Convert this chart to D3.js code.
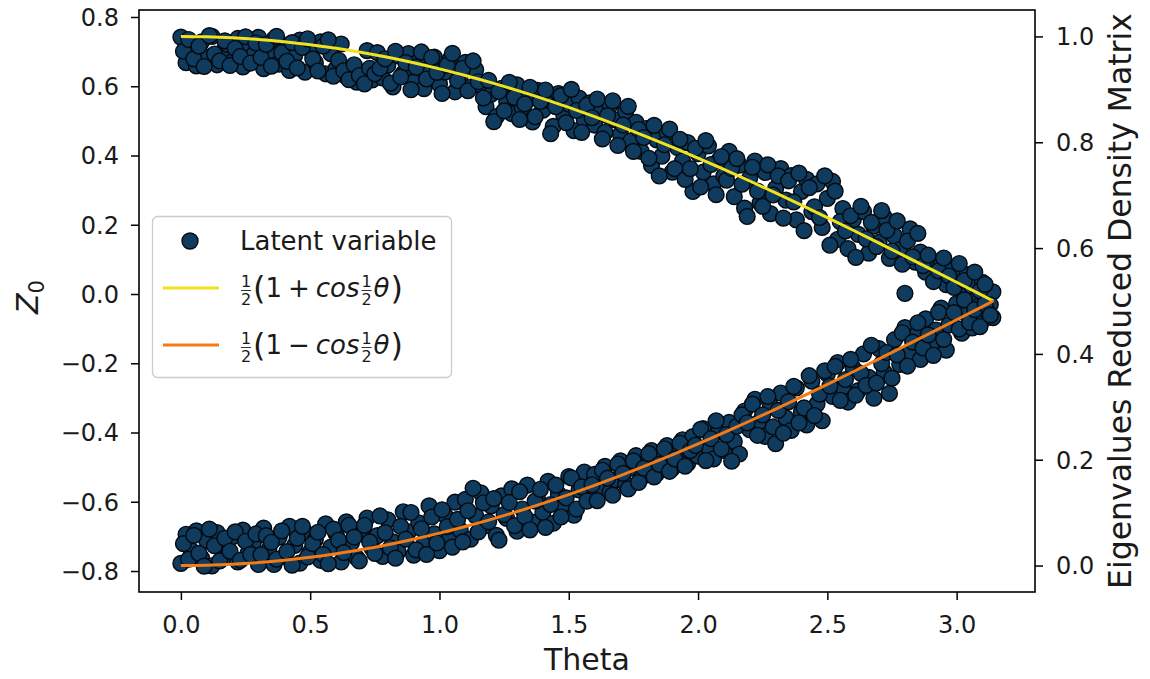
<!DOCTYPE html>
<html>
<head>
<meta charset="utf-8">
<script src="https://cdn.jsdelivr.net/npm/d3@7"></script>
<style>
  body { margin: 0; background: #fff; }
  svg { display: block; }
  text { font-family: "DejaVu Sans", sans-serif; fill: #1a1a1a; }
</style>
</head>
<body>
<svg id="chart" width="1150" height="679"></svg>
<script>
// Rotation angle of each sample (radians), first sweep
const thetasA = [
  0.00,0.02,0.04,0.06,0.08,0.10,0.12,0.14,0.16,0.18,0.20,0.22,0.24,0.26,0.28,0.30,
  0.32,0.34,0.36,0.38,0.40,0.42,0.44,0.46,0.48,0.50,0.52,0.54,0.56,0.58,0.60,0.62,
  0.64,0.66,0.68,0.70,0.72,0.74,0.76,0.78,0.80,0.82,0.84,0.86,0.88,0.90,0.92,0.94,
  0.96,0.98,1.00,1.02,1.04,1.06,1.08,1.10,1.12,1.14,1.16,1.18,1.20,1.22,1.24,1.26,
  1.28,1.30,1.32,1.34,1.36,1.38,1.40,1.42,1.44,1.46,1.48,1.50,1.52,1.54,1.56,1.58,
  1.60,1.62,1.64,1.66,1.68,1.70,1.72,1.74,1.76,1.78,1.80,1.82,1.84,1.86,1.88,1.90,
  1.92,1.94,1.96,1.98,2.00,2.02,2.04,2.06,2.08,2.10,2.12,2.14,2.16,2.18,2.20,2.22,
  2.24,2.26,2.28,2.30,2.32,2.34,2.36,2.38,2.40,2.42,2.44,2.46,2.48,2.50,2.52,2.54,
  2.56,2.58,2.60,2.62,2.64,2.66,2.68,2.70,2.72,2.74,2.76,2.78,2.80,2.82,2.84,2.86,
  2.88,2.90,2.92,2.94,2.96,2.98,3.00,3.02,3.04,3.06,3.08,3.10,3.12,3.14
];
// Latent variable Z0 for the first sweep, upper branch
const upperZA = [
  0.742,0.668,0.705,0.659,0.728,0.684,0.744,0.662,0.699,0.721,0.671,0.738,0.656,0.712,0.690,0.741,
  0.651,0.702,0.736,0.664,0.718,0.646,0.689,0.733,0.641,0.707,0.668,0.728,0.636,0.694,0.651,0.722,
  0.628,0.655,0.612,0.641,0.703,0.618,
  0.697,0.624,0.661,0.598,0.688,0.637,0.694,0.612,0.672,0.593,0.650,0.684,0.606,0.641,0.677,0.584,0.628,0.669,0.597,0.648,
  0.603,0.541,0.577,0.512,0.594,0.556,0.521,0.604,0.538,0.572,0.497,0.588,0.531,0.560,0.484,0.579,0.519,0.548,0.472,0.566,0.503,
  0.552,0.488,0.531,0.467,0.545,0.503,0.461,0.527,0.442,0.496,
  0.412,0.478,0.371,0.445,0.398,0.466,0.352,0.423,0.384,
  0.437,0.296,0.405,0.352,0.428,0.318,0.386,0.341,0.412,
  0.281,0.372,0.248,0.335,0.384,0.263,0.351,0.232,0.305,0.362,0.271,
  0.342,0.214,0.296,0.331,0.238,0.318,0.192,0.276,0.325,0.158,
  0.247,0.131,0.214,0.172,0.238,0.118,0.196,0.149,0.222,0.103,0.167,0.128,0.002,0.188,0.092,
  0.121,0.063,0.098,0.041,0.085,0.027,0.071,0.048,0.012,0.056,0.021,-0.008,0.034,-0.015,0.006
];
// Latent variable Z0 for the first sweep, lower branch
const lowerZA = [
  -0.778,-0.694,-0.741,-0.684,-0.763,-0.712,-0.785,-0.689,-0.732,-0.757,-0.701,-0.774,-0.682,-0.748,-0.719,-0.781,
  -0.676,-0.739,-0.781,-0.702,-0.758,-0.671,-0.726,-0.777,-0.688,-0.745,-0.709,-0.769,-0.664,-0.731,-0.692,-0.774,-0.658,-0.718,
  -0.762,-0.681,-0.647,-0.735,-0.698,-0.758,-0.652,-0.716,-0.744,-0.629,-0.687,-0.754,-0.661,-0.723,-0.612,-0.693,-0.741,-0.638,-0.706,-0.601,
  -0.682,-0.593,-0.708,-0.641,-0.574,-0.669,-0.612,-0.697,-0.583,-0.648,-0.563,-0.685,-0.621,-0.552,-0.659,-0.594,-0.631,-0.541,-0.662,-0.578,-0.612,-0.527,-0.639,-0.566,-0.514,
  -0.587,-0.521,-0.558,-0.498,-0.571,-0.536,-0.482,-0.549,-0.503,-0.467,-0.531,-0.486,-0.452,-0.519,-0.471,-0.438,-0.504,-0.457,-0.421,-0.489,
  -0.412,-0.468,-0.389,-0.443,-0.476,-0.398,-0.452,-0.371,-0.426,-0.462,
  -0.338,-0.392,-0.304,-0.367,-0.411,-0.322,-0.432,-0.286,-0.358,-0.394,-0.271,-0.341,-0.378,-0.252,-0.318,-0.366,
  -0.231,-0.296,-0.198,-0.268,-0.312,-0.214,-0.279,-0.173,-0.241,-0.301,-0.158,-0.226,-0.287,
  -0.132,-0.203,-0.097,-0.168,-0.121,-0.189,-0.072,-0.147,-0.104,-0.041,-0.162,
  -0.087,-0.028,-0.113,-0.059,-0.098,-0.037,-0.076,-0.052,-0.068
];

// Second sweep, interleaved angles
const thetasB = [
  0.01,0.03,0.05,0.07,0.09,0.11,0.13,0.15,0.17,0.19,0.21,0.23,0.25,0.27,0.29,0.31,
  0.33,0.35,0.37,0.39,0.41,0.43,0.45,0.47,0.49,0.51,0.53,0.55,0.57,0.59,0.61,0.63,
  0.65,0.67,0.69,0.71,0.73,0.75,0.77,0.79,0.81,0.83,0.85,0.87,0.89,0.91,0.93,0.95,
  0.97,0.99,1.01,1.03,1.05,1.07,1.09,1.11,1.13,1.15,1.17,1.19,1.21,1.23,1.25,1.27,
  1.29,1.31,1.33,1.35,1.37,1.39,1.41,1.43,1.45,1.47,1.49,1.51,1.53,1.55,1.57,1.59,
  1.61,1.63,1.65,1.67,1.69,1.71,1.73,1.75,1.77,1.79,1.81,1.83,1.85,1.87,1.89,1.91,
  1.93,1.95,1.97,1.99,2.01,2.03,2.05,2.07,2.09,2.11,2.13,2.15,2.17,2.19,2.21,2.23,
  2.25,2.27,2.29,2.31,2.33,2.35,2.37,2.39,2.41,2.43,2.45,2.47,2.49,2.51,2.53,2.55,
  2.57,2.59,2.61,2.63,2.65,2.67,2.69,2.71,2.73,2.75,2.77,2.79,2.81,2.83,2.85,2.87,
  2.89,2.91,2.93,2.95,2.97,2.99,3.01,3.03,3.05,3.07,3.09,3.11,3.13
];
const upperZB = [
  0.701,0.735,0.679,0.716,0.657,0.746,0.693,0.673,0.731,0.660,0.709,0.686,0.743,0.667,0.725,
  0.683,0.721,0.658,0.744,0.697,0.672,0.726,0.653,0.712,0.737,0.679,0.644,0.716,0.734,0.629,0.675,
  0.645,0.619,0.662,0.631,0.607,0.652,0.636,
  0.652,0.679,0.609,0.701,0.627,0.668,0.590,0.655,0.699,0.621,0.683,0.640,0.579,0.661,0.695,0.616,0.652,0.587,0.673,0.613,
  0.566,0.617,0.498,0.585,0.529,0.611,0.568,0.504,0.549,0.597,0.512,0.556,0.589,0.463,0.541,0.573,0.495,0.591,0.530,0.467,0.545,
  0.509,0.563,0.448,0.515,0.558,0.429,0.488,0.542,0.412,0.475,
  0.452,0.392,0.487,0.341,0.431,0.476,0.362,0.447,0.331,
  0.362,0.421,0.309,0.443,0.374,0.287,0.397,0.329,0.363,
  0.391,0.317,0.224,0.366,0.297,0.253,0.373,0.286,0.341,0.219,0.327,
  0.266,0.349,0.183,0.307,0.252,0.221,0.341,0.141,0.297,0.209,
  0.182,0.226,0.106,0.253,0.159,0.207,0.137,0.241,0.184,0.124,0.211,0.086,0.153,0.107,0.175,
  0.082,0.112,0.036,0.067,0.104,0.052,0.019,0.088,0.039,-0.021,0.063,0.009,0.028,-0.031
];
const lowerZB = [
  -0.721,-0.766,-0.697,-0.749,-0.786,-0.679,-0.727,-0.771,-0.705,-0.743,-0.687,-0.769,-0.714,-0.752,-0.693,
  -0.753,-0.698,-0.717,-0.766,-0.684,-0.744,-0.783,-0.705,-0.671,-0.759,-0.721,-0.688,-0.752,-0.779,-0.679,-0.711,-0.747,-0.668,
  -0.702,-0.771,-0.668,-0.716,-0.749,-0.641,-0.689,-0.733,-0.763,-0.671,-0.708,-0.631,-0.739,-0.678,-0.752,-0.644,-0.719,-0.623,-0.672,-0.731,
  -0.651,-0.716,-0.626,-0.561,-0.687,-0.603,-0.658,-0.591,-0.711,-0.637,-0.602,-0.669,-0.571,-0.643,-0.681,-0.598,-0.564,-0.674,-0.608,-0.552,-0.644,-0.589,-0.531,-0.621,-0.557,-0.598,
  -0.551,-0.597,-0.509,-0.532,-0.581,-0.491,-0.518,-0.563,-0.482,-0.544,-0.503,-0.461,-0.528,-0.492,-0.447,-0.512,-0.476,-0.431,-0.497,-0.452,
  -0.437,-0.391,-0.481,-0.418,-0.366,-0.447,-0.406,-0.483,-0.382,-0.349,
  -0.372,-0.318,-0.408,-0.349,-0.296,-0.384,-0.336,-0.402,-0.311,-0.267,-0.372,-0.329,-0.236,-0.351,-0.289,-0.222,
  -0.266,-0.209,-0.307,-0.247,-0.189,-0.292,-0.229,-0.264,-0.148,-0.257,-0.201,-0.169,-0.243,
  -0.176,-0.112,-0.208,-0.139,-0.083,-0.156,-0.118,-0.177,-0.053,-0.131,-0.089,
  -0.054,-0.101,-0.017,-0.082,-0.045,-0.094,-0.029,-0.061
];

// Eigenvalues of the reduced density matrix: (1 ± cos(θ/2)) / 2
const curveTheta = [
  0.0,0.1,0.2,0.3,0.4,0.5,0.6,0.7,0.8,0.9,1.0,1.1,1.2,1.3,1.4,1.5,1.6,
  1.7,1.8,1.9,2.0,2.1,2.2,2.3,2.4,2.5,2.6,2.7,2.8,2.9,3.0,3.1,3.1416
];
const eigenPlus = [
  1.00000,0.99938,0.99750,0.99438,0.99003,0.98446,0.97767,0.96969,0.96053,0.95023,
  0.93879,0.92626,0.91267,0.89804,0.88242,0.86584,0.84835,0.82999,0.81080,0.79084,
  0.77015,0.74878,0.72680,0.70424,0.68118,0.65766,0.63375,0.60951,0.58498,0.56025,
  0.53537,0.51040,0.50000
];
const eigenMinus = [
  0.00000,0.00062,0.00250,0.00562,0.00997,0.01554,0.02233,0.03031,0.03947,0.04977,
  0.06121,0.07374,0.08733,0.10196,0.11758,0.13416,0.15165,0.17001,0.18920,0.20916,
  0.22985,0.25122,0.27320,0.29576,0.31882,0.34234,0.36625,0.39049,0.41502,0.43975,
  0.46463,0.48960,0.50000
];

const xTicks = [0, 0.5, 1.0, 1.5, 2.0, 2.5, 3.0];
const leftTicks = [-0.8, -0.6, -0.4, -0.2, 0.0, 0.2, 0.4, 0.6, 0.8];
const rightTicks = [0.0, 0.2, 0.4, 0.6, 0.8, 1.0];

const COLORS = { point: "#0e3b5e", edge: "#050a10", plus: "#f2e21e", minus: "#f57c14" };

const svg = d3.select("#chart");
const frame = { left: 139, right: 1035, top: 10, bottom: 592 };

const x = d3.scaleLinear().domain([-0.162, 3.303]).range([frame.left, frame.right]);
const yL = d3.scaleLinear().domain([-0.8606, 0.8202]).range([frame.bottom, frame.top]);
const yR = d3.scaleLinear().domain([-0.05, 1.05]).range([frame.bottom, frame.top]);
const fmt = d3.format(".1f");

// Scatter of the latent variable
const pts = [];
thetasA.forEach((t, i) => pts.push({ t, z: upperZA[i] }));
thetasB.forEach((t, i) => pts.push({ t, z: upperZB[i] }));
thetasA.forEach((t, i) => pts.push({ t, z: lowerZA[i] }));
thetasB.forEach((t, i) => pts.push({ t, z: lowerZB[i] }));
svg.append("g").selectAll("circle").data(pts).join("circle")
  .attr("cx", d => x(d.t))
  .attr("cy", d => yL(d.z))
  .attr("r", 7.9)
  .attr("fill", COLORS.point)
  .attr("stroke", COLORS.edge)
  .attr("stroke-width", 1.4);

// Eigenvalue curves on the right axis
const curveData = curveTheta.map((t, i) => ({ t, p: eigenPlus[i], m: eigenMinus[i] }));
const linePlus = d3.line().x(d => x(d.t)).y(d => yR(d.p)).curve(d3.curveMonotoneX);
const lineMinus = d3.line().x(d => x(d.t)).y(d => yR(d.m)).curve(d3.curveMonotoneX);
svg.append("path").datum(curveData).attr("d", linePlus)
  .attr("fill", "none").attr("stroke", COLORS.plus).attr("stroke-width", 3);
svg.append("path").datum(curveData).attr("d", lineMinus)
  .attr("fill", "none").attr("stroke", COLORS.minus).attr("stroke-width", 3);

// Axes
function styleAxis(g) {
  g.select(".domain").remove();
  g.selectAll(".tick line").attr("stroke", "#000").attr("stroke-width", 1.5);
  g.selectAll(".tick text").attr("font-size", 24).attr("fill", "#1a1a1a")
    .attr("font-family", "DejaVu Sans, sans-serif");
}
const gx = svg.append("g").attr("transform", `translate(0,${frame.bottom})`)
  .call(d3.axisBottom(x).tickValues(xTicks).tickFormat(fmt).tickSize(8).tickSizeOuter(0));
styleAxis(gx);
gx.selectAll(".tick text").attr("y", 41).attr("dy", 0);

const gl = svg.append("g").attr("transform", `translate(${frame.left},0)`)
  .call(d3.axisLeft(yL).tickValues(leftTicks).tickFormat(fmt).tickSize(8).tickSizeOuter(0));
styleAxis(gl);
gl.selectAll(".tick text").attr("x", -20).attr("dy", "0.35em");

const gr = svg.append("g").attr("transform", `translate(${frame.right},0)`)
  .call(d3.axisRight(yR).tickValues(rightTicks).tickFormat(fmt).tickSize(8).tickSizeOuter(0));
styleAxis(gr);
gr.selectAll(".tick text").attr("x", 21).attr("dy", "0.35em");

// Frame
svg.append("rect")
  .attr("x", frame.left).attr("y", frame.top)
  .attr("width", frame.right - frame.left).attr("height", frame.bottom - frame.top)
  .attr("fill", "none").attr("stroke", "#000").attr("stroke-width", 1.6);

// Axis titles
svg.append("text").attr("x", (frame.left + frame.right) / 2).attr("y", 670)
  .attr("text-anchor", "middle").attr("font-size", 30).text("Theta");

const zlab = svg.append("text").attr("transform", "translate(38,297) rotate(-90)")
  .attr("text-anchor", "middle").attr("font-size", 30);
zlab.append("tspan").attr("font-style", "italic").text("Z");
zlab.append("tspan").attr("font-size", 21).attr("dy", 6).text("0");

svg.append("text").attr("transform", `translate(1131,${(frame.top + frame.bottom) / 2}) rotate(-90)`)
  .attr("text-anchor", "middle").attr("font-size", 31.5)
  .text("Eigenvalues Reduced Density Matrix");

// Legend
const lg = svg.append("g");
lg.append("rect").attr("x", 152.5).attr("y", 216.5).attr("width", 299).attr("height", 161)
  .attr("rx", 5).attr("fill", "#fff").attr("fill-opacity", 0.8)
  .attr("stroke", "#cccccc").attr("stroke-width", 1.3);

const rows = [241, 288, 345];
const LEG_FS = 26;
lg.append("circle").attr("cx", 190).attr("cy", rows[0]).attr("r", 8)
  .attr("fill", COLORS.point).attr("stroke", COLORS.edge).attr("stroke-width", 1.4);
lg.append("text").attr("x", 240).attr("y", rows[0] + 9).attr("font-size", LEG_FS).text("Latent variable");

[[COLORS.plus, "+", rows[1]], [COLORS.minus, "\u2212", rows[2]]].forEach(([col, sign, cy]) => {
  lg.append("line").attr("x1", 163).attr("x2", 219).attr("y1", cy).attr("y2", cy)
    .attr("stroke", col).attr("stroke-width", 3);
  mathLabel(lg, 240, cy, sign);
});

function frac(g, x0, cy) {
  const fs = 16;
  const w = 12;
  g.append("text").attr("x", x0 + w / 2).attr("y", cy - 1).attr("text-anchor", "middle")
    .attr("font-size", fs).text("1");
  g.append("line").attr("x1", x0 + 1).attr("x2", x0 + w - 1).attr("y1", cy + 2.5).attr("y2", cy + 2.5)
    .attr("stroke", "#1a1a1a").attr("stroke-width", 0.9);
  g.append("text").attr("x", x0 + w / 2).attr("y", cy + 17).attr("text-anchor", "middle")
    .attr("font-size", fs).text("2");
  return x0 + w + 1;
}
function piece(g, x0, base, str, italic, fs) {
  const t = g.append("text").attr("x", x0).attr("y", base).attr("font-size", fs || LEG_FS).text(str);
  if (italic) t.attr("font-style", "italic");
  return x0 + t.node().getComputedTextLength();
}
function mathLabel(g, x0, cy, sign) {
  const base = cy + 9;
  let cx = frac(g, x0, cy);
  cx = piece(g, cx, base + 2, "(", false, 32);
  cx = piece(g, cx, base, "1", false);
  cx += 6;
  cx = piece(g, cx, base, sign, false);
  cx += 6;
  cx = piece(g, cx, base, "cos", true);
  cx = frac(g, cx + 1, cy);
  cx = piece(g, cx, base, "\u03b8", true);
  piece(g, cx + 1, base + 2, ")", false, 32);
}
</script>
</body>
</html>
